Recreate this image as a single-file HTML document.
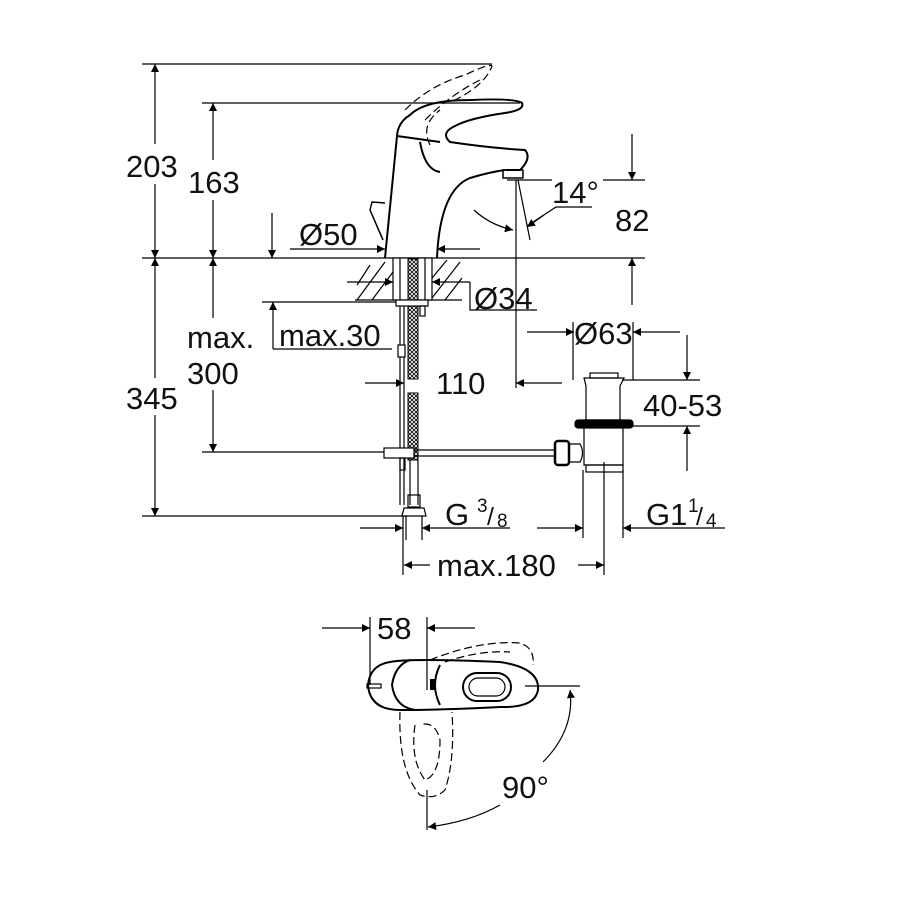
<!DOCTYPE html>
<html><head><style>
html,body{margin:0;padding:0;background:#fff;}
svg{display:block;}
text{font-family:"Liberation Sans",Arial,sans-serif;fill:#111;}
</style></head><body>
<svg width="900" height="900" viewBox="0 0 900 900" xmlns="http://www.w3.org/2000/svg">
<defs>
<marker id="a" viewBox="0 0 10 10" refX="10" refY="5" markerWidth="18" markerHeight="8" markerUnits="userSpaceOnUse" orient="auto"><path d="M0,0 L10,5 L0,10 z" fill="#000"/></marker>
<pattern id="mesh" width="4" height="4" patternUnits="userSpaceOnUse"><rect width="4" height="4" fill="#fff"/><path d="M0,0 L4,4 M4,0 L0,4" stroke="#000" stroke-width="0.8"/></pattern>
</defs>
<g stroke="#000" stroke-width="1.2" fill="none">
<line x1="142" y1="64" x2="492" y2="64"/>
<line x1="202" y1="103" x2="520" y2="103"/>
<line x1="142" y1="258" x2="645" y2="258"/>
<line x1="142" y1="516" x2="408" y2="516"/>
<line x1="202" y1="452" x2="390" y2="452"/>
<line x1="155" y1="144" x2="155" y2="64" marker-end="url(#a)"/>
<line x1="155" y1="184" x2="155" y2="258" marker-end="url(#a)"/>
<line x1="213" y1="160" x2="213" y2="103" marker-end="url(#a)"/>
<line x1="213" y1="200" x2="213" y2="258" marker-end="url(#a)"/>
<line x1="155" y1="378" x2="155" y2="258" marker-end="url(#a)"/>
<line x1="155" y1="415" x2="155" y2="516" marker-end="url(#a)"/>
<line x1="213" y1="318" x2="213" y2="258" marker-end="url(#a)"/>
<line x1="213" y1="390" x2="213" y2="452" marker-end="url(#a)"/>
<line x1="262" y1="302" x2="420" y2="302"/>
<line x1="273" y1="349" x2="273" y2="302" marker-end="url(#a)"/>
<line x1="273" y1="349" x2="392" y2="349"/>
<line x1="272" y1="213" x2="272" y2="258" marker-end="url(#a)"/>
<line x1="290" y1="249" x2="385" y2="249" marker-end="url(#a)"/>
<line x1="480" y1="249" x2="437" y2="249" marker-end="url(#a)"/>
<line x1="347" y1="282" x2="393" y2="282" marker-end="url(#a)"/>
<line x1="470" y1="282" x2="432" y2="282" marker-end="url(#a)"/>
<polyline points="470,282 470,310 537,310"/>
<line x1="365" y1="383" x2="404" y2="383" marker-end="url(#a)"/>
<line x1="516" y1="180" x2="516" y2="388"/>
<line x1="562" y1="383" x2="516" y2="383" marker-end="url(#a)"/>
<line x1="507" y1="180" x2="552" y2="180"/>
<line x1="518" y1="180" x2="530" y2="240"/>
<path d="M474,210 Q490,225 513,230" marker-end="url(#a)"/>
<polyline points="592,207 556,207 527,226" />
<line x1="544" y1="215" x2="527" y2="227" marker-end="url(#a)"/>
<line x1="603" y1="180" x2="645" y2="180"/>
<line x1="632" y1="134" x2="632" y2="180" marker-end="url(#a)"/>
<line x1="632" y1="305" x2="632" y2="258" marker-end="url(#a)"/>
<line x1="527" y1="332" x2="574" y2="332" marker-end="url(#a)"/>
<line x1="680" y1="332" x2="633" y2="332" marker-end="url(#a)"/>
<line x1="573" y1="322" x2="573" y2="380"/>
<line x1="633" y1="322" x2="633" y2="380"/>
<line x1="622" y1="380" x2="700" y2="380"/>
<line x1="628" y1="426" x2="700" y2="426"/>
<line x1="687" y1="335" x2="687" y2="380" marker-end="url(#a)"/>
<line x1="687" y1="471" x2="687" y2="426" marker-end="url(#a)"/>
<line x1="360" y1="528" x2="403" y2="528" marker-end="url(#a)"/>
<line x1="510" y1="528" x2="422" y2="528" marker-end="url(#a)"/>
<line x1="403" y1="516" x2="403" y2="575"/>
<line x1="537" y1="528" x2="583" y2="528" marker-end="url(#a)"/>
<line x1="725" y1="528" x2="623" y2="528" marker-end="url(#a)"/>
<line x1="583" y1="470" x2="583" y2="538"/>
<line x1="623" y1="470" x2="623" y2="538"/>
<line x1="430" y1="565" x2="404" y2="565" marker-end="url(#a)"/>
<line x1="578" y1="565" x2="604" y2="565" marker-end="url(#a)"/>
<line x1="604" y1="462" x2="604" y2="575"/>
</g>

<g stroke="#000" stroke-width="1.2" fill="none">
<line x1="355" y1="300" x2="462" y2="300"/>
<path d="M357,285 L370,265 M357,300 L385,262 M372,300 L393,272 M432,278 L447,260 M432,298 L460,262 M445,300 L462,278"/>
<rect x="393" y="258" width="39" height="42" fill="#fff"/>
<line x1="400" y1="258" x2="400" y2="300"/>
<line x1="425" y1="258" x2="425" y2="300"/>
</g>
<rect x="408" y="259" width="10" height="120" fill="url(#mesh)" stroke="#000" stroke-width="1"/>
<rect x="408" y="393" width="10" height="67" fill="url(#mesh)" stroke="#000" stroke-width="1"/>
<g stroke="#000" stroke-width="1.2" fill="none">
<rect x="396" y="300" width="32" height="6" fill="#fff"/>
<rect x="420" y="306" width="5" height="10"/>
<line x1="400" y1="306" x2="400" y2="505"/>
<line x1="404" y1="306" x2="404" y2="505"/>
<rect x="398" y="345" width="7" height="12" fill="#fff"/>
<rect x="384" y="448" width="30" height="10" fill="#fff"/>
<rect x="400" y="458" width="5" height="12"/>
<line x1="410" y1="460" x2="410" y2="505"/>
<line x1="418" y1="460" x2="418" y2="505"/>
<rect x="408" y="495" width="12" height="12"/>
<path d="M404,508 L424,508 L426,516 L402,516 Z" fill="#fff"/>
<line x1="406" y1="516" x2="406" y2="540"/>
<line x1="422" y1="516" x2="422" y2="540"/>
<line x1="414" y1="450" x2="557" y2="450"/>
<line x1="414" y1="456" x2="557" y2="456"/>
<rect x="555" y="441" width="14" height="24" rx="3" fill="#fff" stroke-width="2.5"/>
<path d="M569,444 L580,444 Q585,453 580,462 L569,462"/>
<path d="M584,378 L624,378 L620,386 L620,420 L586,420 L586,386 Z"/>
<rect x="590" y="373" width="28" height="5"/>
<rect x="575" y="420" width="58" height="8" rx="3" fill="#000"/>
<path d="M584,428 L584,465 L623,465 L623,428"/>
<rect x="586" y="465" width="37" height="7"/>
</g>

<g stroke="#000" stroke-width="2" fill="none" stroke-linejoin="round">
<path d="M385,258 L397,136"/>
<path d="M437,258 Q440,190 470,178 Q490,172 505,170"/>
<path d="M397,136 Q398,122 410,115 Q425,100 470,100 Q515,98 522,103 Q525,110 505,113 Q470,118 455,126 Q440,133 450,142 Q490,148 525,150 Q532,158 520,170 L506,170"/>
<path d="M397,136 L440,142"/>
<path d="M420,142 Q425,170 440,172"/>
<rect x="503" y="170" width="20" height="8" stroke-width="1.5"/>
<path d="M383,240 L370,210 L372,202 L385,203" stroke-width="1.5"/>
</g>
<g stroke="#000" stroke-width="1.2" fill="none" stroke-dasharray="8,4">
<path d="M405,110 Q430,85 465,75 Q490,63 492,66 Q485,85 455,100"/>
<path d="M425,120 Q450,95 480,80"/>
<path d="M430,145 Q420,125 440,110"/>
</g>

<g stroke="#000" stroke-width="1.2" fill="none">
<line x1="322" y1="628" x2="370" y2="628" marker-end="url(#a)"/>
<line x1="475" y1="628" x2="427" y2="628" marker-end="url(#a)"/>
<line x1="370" y1="617" x2="370" y2="685"/>
<line x1="427" y1="617" x2="427" y2="690"/>
<line x1="427" y1="790" x2="427" y2="830"/>
<line x1="525" y1="686" x2="580" y2="686"/>
<path d="M543,762 Q575,730 570,690" marker-end="url(#a)"/>
<path d="M500,805 Q470,822 428,827" marker-end="url(#a)"/>
</g>
<g stroke="#000" stroke-width="2" fill="none">
<path d="M390,662 Q410,658 500,662 Q540,668 538,690 Q535,708 500,707 Q440,710 400,710 Q370,710 368,685 Q370,665 390,662 Z"/>
<path d="M410,660 Q395,665 392,685 Q395,707 415,710"/>
<path d="M440,665 Q430,685 440,705"/>
<rect x="463" y="673" width="48" height="28" rx="14"/>
<rect x="469" y="678" width="36" height="18" rx="9" stroke-width="1.2"/>
<rect x="367" y="684" width="14" height="4" stroke-width="1.2"/>
<rect x="431" y="680" width="4" height="9" fill="#000"/>
</g>
<g stroke="#000" stroke-width="1.2" fill="none" stroke-dasharray="8,4">
<path d="M430,660 Q480,640 520,643 Q535,648 533,665"/>
<path d="M445,662 Q480,650 510,652"/>
<path d="M400,712 Q398,770 420,795 Q435,800 445,790 Q455,760 452,712"/>
<path d="M415,725 Q410,760 425,780 Q440,775 440,740 Q435,720 420,725"/>
</g>

<g font-size="31">
<text x="126" y="177">203</text>
<text x="188" y="193">163</text>
<text x="126" y="409">345</text>
<text x="187" y="348">max.</text>
<text x="187" y="384">300</text>
<text x="279" y="346">max.30</text>
<text x="299" y="245">Ø50</text>
<text x="474" y="309">Ø34</text>
<text x="436" y="394">110</text>
<text x="552" y="203">14°</text>
<text x="615" y="231">82</text>
<text x="574" y="344">Ø63</text>
<text x="643" y="416">40-53</text>
<text x="445" y="525">G</text>
<text x="646" y="525">G1</text>
<text x="437" y="576">max.180</text>
<text x="377" y="639">58</text>
<text x="502" y="798">90°</text>
</g>
<g font-size="19">
<text x="477" y="512">3</text><text x="487" y="525" font-size="25">/</text><text x="497" y="527">8</text>
<text x="688" y="512">1</text><text x="696" y="525" font-size="25">/</text><text x="706" y="527">4</text>
</g>
</svg>
</body></html>
